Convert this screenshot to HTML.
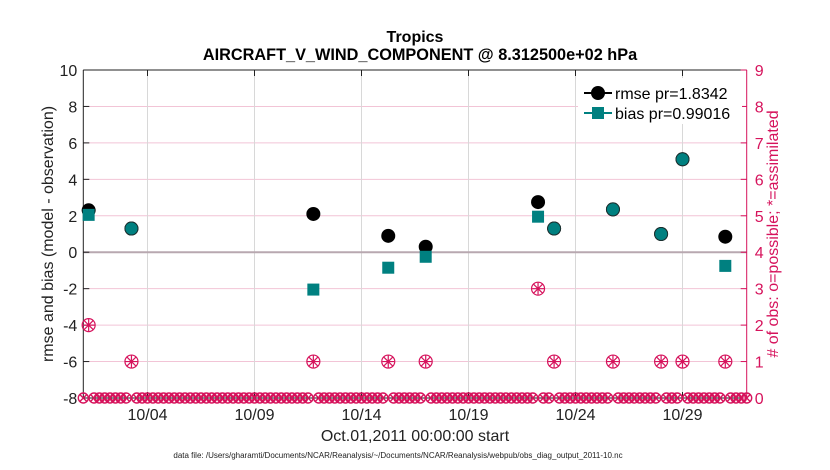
<!DOCTYPE html>
<html><head><meta charset="utf-8"><style>
body{margin:0;background:#fff;}
svg{display:block;font-family:"Liberation Sans",sans-serif;}
</style></head><body>
<svg id="chart" width="830" height="470">
<g id="grid"></g>
<g id="axes"></g>
<g id="marks"></g>
<text x="415" y="42" text-anchor="middle" font-size="16" font-weight="bold">Tropics</text>
<text x="420" y="60" text-anchor="middle" font-size="16.3" font-weight="bold">AIRCRAFT_V_WIND_COMPONENT @ 8.312500e+02 hPa</text>
<text transform="translate(53,234) rotate(-90)" text-anchor="middle" font-size="16" fill="#222">rmse and bias (model - observation)</text>
<text transform="translate(778,234) rotate(-90)" text-anchor="middle" font-size="16" fill="#d6135c"># of obs: o=possible; *=assimilated</text>
<text x="415" y="441" text-anchor="middle" font-size="16" fill="#222">Oct.01,2011 00:00:00 start</text>
<text x="398" y="458" text-anchor="middle" font-size="8" fill="#222">data file: /Users/gharamti/Documents/NCAR/Reanalysis/~/Documents/NCAR/Reanalysis/webpub/obs_diag_output_2011-10.nc</text>
<g>
<rect x="578" y="78" width="164" height="46" fill="#fff"/>
<line x1="584" y1="93" x2="612" y2="93" stroke="#000" stroke-width="2"/>
<circle cx="598" cy="93" r="7" fill="#000"/>
<text x="615" y="99" font-size="16">rmse pr=1.8342</text>
<line x1="584" y1="113" x2="612" y2="113" stroke="#008080" stroke-width="2"/>
<rect x="592" y="107" width="12" height="12" fill="#008080"/>
<text x="615" y="119" font-size="16">bias pr=0.99016</text>
</g>
</svg>
<script>
const days=[0.25,2.25,10.75,14.25,16,21.25,22,24.75,27,28,30];
const rmse=[2.3,1.3,2.1,0.9,0.3,2.75,1.3,2.35,1.0,5.1,0.85];
const bias=[2.05,1.3,-2.05,-0.85,-0.25,1.95,1.3,2.35,1.0,5.1,-0.75];
const nobs=[2,1,1,1,1,3,1,1,1,1,1];
const leftTicks=[-8,-6,-4,-2,0,2,4,6,8,10];
const rightTicks=[0,1,2,3,4,5,6,7,8,9];
const xTickDays=[3,8,13,18,23,28];
const xTickLabels=['10/04','10/09','10/14','10/19','10/24','10/29'];
const L=83.3,R=746.7,T=70,B=398;
const X=d=>L+(R-L)*d/31;
const Y=v=>B-(B-T)*(v+8)/18;
const YR=n=>B-(B-T)*n/9;
const NS='http://www.w3.org/2000/svg';
function mk(tag,attrs,parent){const e=document.createElementNS(NS,tag);for(const k in attrs)e.setAttribute(k,attrs[k]);parent.appendChild(e);return e;}
const grid=document.getElementById('grid'),axes=document.getElementById('axes'),marks=document.getElementById('marks');
rightTicks.forEach(n=>{if(n>0&&n<9){const l=mk('line',{x1:L,x2:R,y1:YR(n),y2:YR(n),stroke:'#f2c4d6','stroke-width':1},grid);

}});
xTickDays.forEach(d=>{const l=mk('line',{x1:X(d),x2:X(d),y1:T,y2:B,stroke:'#d8d8d8','stroke-width':1},grid);

});
const z=mk('line',{x1:L,x2:R,y1:Y(0),y2:Y(0),stroke:'#b8a8b0','stroke-width':2},grid);


mk('line',{x1:L,x2:L,y1:T,y2:B,stroke:'#222','stroke-width':1},axes);
mk('line',{x1:L,x2:R,y1:T,y2:T,stroke:'#222','stroke-width':1},axes);
mk('line',{x1:R,x2:R,y1:T,y2:B,stroke:'#d6135c','stroke-width':1},axes);
mk('line',{x1:L,x2:R,y1:B,y2:B,stroke:'#222','stroke-width':1},axes);
leftTicks.forEach(v=>{mk('line',{x1:L,x2:L+6,y1:Y(v),y2:Y(v),stroke:'#222'},axes);
const t=mk('text',{x:L-6,y:Y(v)+6,'text-anchor':'end','font-size':16,fill:'#222'},axes);t.textContent=v;

});
rightTicks.forEach(n=>{mk('line',{x1:R-6,x2:R,y1:YR(n),y2:YR(n),stroke:'#d6135c'},axes);
const t=mk('text',{x:R+8,y:YR(n)+6,'font-size':16,fill:'#d6135c'},axes);t.textContent=n;

});
xTickDays.forEach((d,i)=>{mk('line',{x1:X(d),x2:X(d),y1:B-6,y2:B,stroke:'#222'},axes);mk('line',{x1:X(d),x2:X(d),y1:T,y2:T+6,stroke:'#222'},axes);
const t=mk('text',{x:X(d),y:B+22,'text-anchor':'middle','font-size':16,fill:'#222'},axes);t.textContent=xTickLabels[i];

});
// zero-count markers
const used=new Set(days.map(d=>Math.round(d*4)));
for(let k=0;k<=124;k++){if(used.has(k))continue;const cx=X(k/4),cy=YR(0);
const g=mk('g',{stroke:'#d6135c','stroke-width':1.4,fill:'none'},marks);


mk('circle',{cx:cx,cy:cy,r:5},g);mk('path',{d:`M${cx-3.5} ${cy-3.5}L${cx+3.5} ${cy+3.5}M${cx-3.5} ${cy+3.5}L${cx+3.5} ${cy-3.5}`},g);}
days.forEach((d,i)=>{const cx=X(d),cy=YR(nobs[i]);
const g=mk('g',{stroke:'#d6135c','stroke-width':1.2,fill:'none'},marks);


mk('circle',{cx:cx,cy:cy,r:6.5},g);
mk('path',{d:`M${cx-6} ${cy}L${cx+6} ${cy}M${cx} ${cy-6}L${cx} ${cy+6}M${cx-4.5} ${cy-4.5}L${cx+4.5} ${cy+4.5}M${cx-4.5} ${cy+4.5}L${cx+4.5} ${cy-4.5}`},g);});
days.forEach((d,i)=>{const cx=X(d);
const c=mk('circle',{cx:cx,cy:Y(rmse[i]),r:7,fill:'#000'},marks);


if(Math.abs(rmse[i]-bias[i])<0.05){const b=mk('circle',{cx:cx,cy:Y(bias[i]),r:6.5,fill:'#008080',stroke:'#1a3030','stroke-width':1},marks);

}
else{const b=mk('rect',{x:cx-6,y:Y(bias[i])-6,width:12,height:12,fill:'#008080'},marks);

}});
</script>
</body></html>
